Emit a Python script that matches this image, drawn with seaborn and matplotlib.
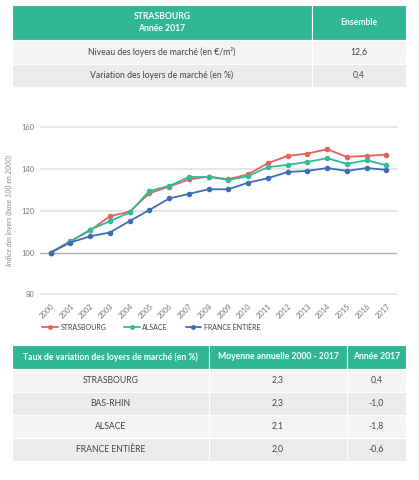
import numpy as np
import pandas as pd
import matplotlib
matplotlib.use("Agg")
import matplotlib.pyplot as plt
import seaborn as sns
from matplotlib.patches import Rectangle
from matplotlib.lines import Line2D

# ---------------- data ----------------
years = list(range(2000, 2018))
strasbourg = [100, 105.5, 110.6, 117.4, 119.6, 128.4, 131.6, 135.0, 136.4, 135.1,
              137.5, 142.8, 146.3, 147.4, 149.5, 145.8, 146.3, 146.9]
alsace = [100, 105.2, 111.0, 115.0, 119.2, 129.5, 131.9, 136.2, 136.2, 134.8,
          136.6, 140.9, 142.0, 143.4, 145.2, 142.5, 144.2, 141.8]
france = [100, 104.8, 107.8, 109.6, 115.1, 120.4, 125.9, 128.1, 130.3, 130.3,
          133.5, 135.6, 138.6, 139.1, 140.5, 139.1, 140.5, 139.6]
series_names = ["STRASBOURG", "ALSACE", "FRANCE ENTIÈRE"]
series_colors = ["#E8605A", "#2EBD95", "#3F6DB6"]
y_ticks = [80, 100, 120, 140, 160]
y_label = "Indice des loyers (base 100 en 2000)"

top_header = ["STRASBOURG\nAnnée 2017", "Ensemble"]
top_rows = ["Niveau des loyers de marché (en €/m²)", "Variation des loyers de marché (en %)"]
top_values = ["12,6", "0,4"]

bot_header = ["Taux de variation des loyers de marché (en %)", "Moyenne annuelle 2000 - 2017", "Année 2017"]
bot_rows = ["STRASBOURG", "BAS-RHIN", "ALSACE", "FRANCE ENTIÈRE"]
bot_mean = ["2,3", "2,3", "2,1", "2,0"]
bot_2017 = ["0,4", "-1,0", "-1,8", "-0,6"]

# ---------------- figure ----------------
sns.set_theme(style="white")
plt.rcParams["font.family"] = ["Lato", "DejaVu Sans"]

W, H = 419, 480
fig = plt.figure(figsize=(W / 100, H / 100), dpi=100)
fig.patch.set_facecolor("white")

# overlay axes in pixel coordinates (y downward) for tables
bg = fig.add_axes([0, 0, 1, 1])
bg.set_xlim(0, W)
bg.set_ylim(H, 0)
bg.axis("off")

TEAL = "#2FB796"
ROW1 = "#F4F4F4"
ROW2 = "#ECECEC"
TXT = "#444444"
FS = 6.2


def cell(x0, y0, x1, y1, color):
    bg.add_patch(Rectangle((x0, y0), x1 - x0, y1 - y0, facecolor=color,
                           edgecolor="white", linewidth=0.8))


# top table
tx0, tx1, tdiv = 12, 406, 312
ty = [5, 40, 63.5, 87]
cell(tx0, ty[0], tdiv, ty[1], TEAL)
cell(tdiv, ty[0], tx1, ty[1], TEAL)
bg.text((tx0 + tdiv) / 2, (ty[0] + ty[1]) / 2, top_header[0], ha="center", va="center",
        color="white", fontsize=FS, fontweight="bold", linespacing=1.5)
bg.text((tdiv + tx1) / 2, (ty[0] + ty[1]) / 2, top_header[1], ha="center", va="center",
        color="white", fontsize=FS, fontweight="bold")
for i, (lab, val) in enumerate(zip(top_rows, top_values)):
    c = ROW1 if i % 2 == 0 else ROW2
    cell(tx0, ty[i + 1], tdiv, ty[i + 2], c)
    cell(tdiv, ty[i + 1], tx1, ty[i + 2], c)
    ym = (ty[i + 1] + ty[i + 2]) / 2
    bg.text((tx0 + tdiv) / 2, ym, lab, ha="center", va="center", color=TXT, fontsize=FS)
    bg.text((tdiv + tx1) / 2, ym, val, ha="center", va="center", color=TXT, fontsize=FS)

# bottom table
bx = [12, 209, 347, 406]
by = [345, 368.5, 391.7, 414.5, 437.7, 461]
for j in range(3):
    cell(bx[j], by[0], bx[j + 1], by[1], TEAL)
    bg.text((bx[j] + bx[j + 1]) / 2, (by[0] + by[1]) / 2, bot_header[j], ha="center",
            va="center", color="white", fontsize=FS, fontweight="bold")
for i, row in enumerate(zip(bot_rows, bot_mean, bot_2017)):
    c = ROW1 if i % 2 == 0 else ROW2
    for j in range(3):
        cell(bx[j], by[i + 1], bx[j + 1], by[i + 2], c)
        bg.text((bx[j] + bx[j + 1]) / 2, (by[i + 1] + by[i + 2]) / 2, row[j], ha="center",
                va="center", color=TXT, fontsize=FS)

# ---------------- line chart ----------------
ymin, ymax = 78, 162
px_per_unit = (294.3 - 127.3) / 80.0
top_px = 127.3 - (ymax - 160) * px_per_unit
bot_px = 294.3 + (80 - ymin) * px_per_unit
left_px, right_px = 40, 397
ax = fig.add_axes([left_px / W, 1 - bot_px / H, (right_px - left_px) / W, (bot_px - top_px) / H])
ax.patch.set_alpha(0)

df = pd.DataFrame({
    "year": years * 3,
    "value": strasbourg + alsace + france,
    "serie": [series_names[0]] * len(years) + [series_names[1]] * len(years) + [series_names[2]] * len(years),
})
df["pos"] = df["year"] - years[0]

for yt in y_ticks:
    if yt == 100:
        ax.axhline(yt, color="#AFAFAF", linewidth=1.0, zorder=0)
    else:
        ax.axhline(yt, color="#E3E3E3", linewidth=1.2, zorder=0)

sns.lineplot(data=df, x="pos", y="value", hue="serie", hue_order=series_names,
             palette=series_colors, marker="o", markersize=4.0, markeredgewidth=0,
             linewidth=1.3, ax=ax, legend=False, zorder=3)

ax.set_xlim(-0.54, len(years) - 1 + 0.54)
ax.set_ylim(ymin, ymax)
ax.set_yticks(y_ticks)
ax.set_yticklabels([str(v) for v in y_ticks])
ax.set_xticks(range(len(years)))
ax.set_xticklabels([str(y) for y in years], rotation=45, ha="right", rotation_mode="anchor")
ax.tick_params(axis="both", length=0, labelsize=5.4, colors="#777777")
ax.tick_params(axis="y", pad=4)
ax.tick_params(axis="x", pad=3)
for s in ax.spines.values():
    s.set_visible(False)
ax.set_xlabel("")
ax.set_ylabel(y_label, fontsize=5.2, color="#8A8A8A", fontstyle="italic", labelpad=6)

handles = [Line2D([0], [0], color=c, marker="o", markersize=3.5, markeredgewidth=0,
                  linewidth=1.3) for c in series_colors]
fig.legend(handles, series_names, loc="center left", bbox_to_anchor=(36 / W, 1 - 327 / H),
           ncol=3, frameon=False, fontsize=5.0, handlelength=2.2, handletextpad=0.4,
           columnspacing=2.6, labelcolor="#444444")

fig.savefig("out.png", dpi=100, facecolor="white")
